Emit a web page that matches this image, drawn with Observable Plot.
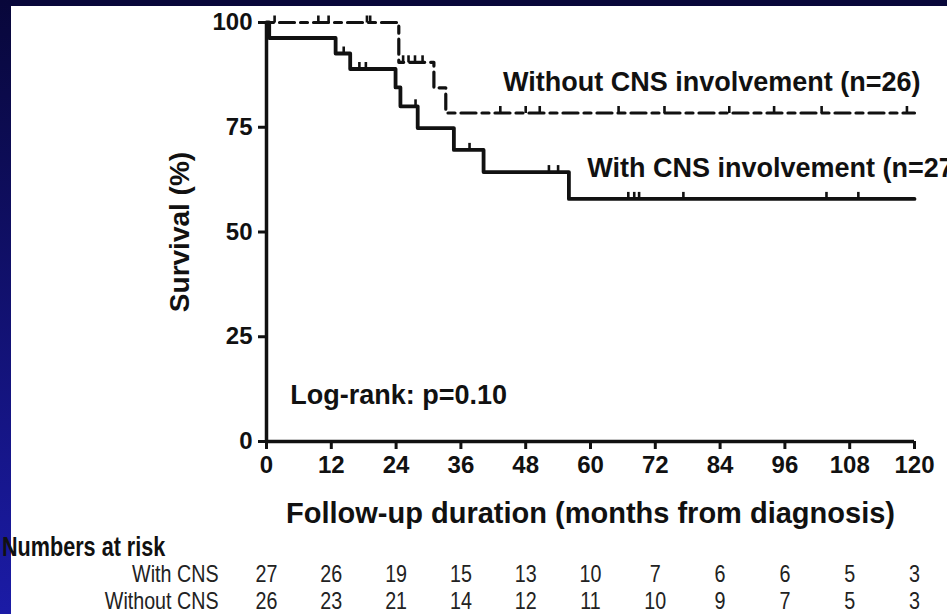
<!DOCTYPE html>
<html><head><meta charset="utf-8">
<script src="https://cdn.jsdelivr.net/npm/d3@7"></script>
<script src="https://cdn.jsdelivr.net/npm/@observablehq/plot@0.6"></script>
<style>
html,body{margin:0;padding:0;}
body{width:947px;height:614px;position:relative;overflow:hidden;background:#fff;font-family:"Liberation Sans",Arial,Helvetica,sans-serif;}
#topbar{position:absolute;left:0;top:0;width:947px;height:6px;background:#08073a;z-index:0;}
#leftbar{position:absolute;left:0;top:0;width:11px;height:614px;background:linear-gradient(#08073a,#1b1ba6);z-index:0;}
#chart{position:absolute;left:0;top:0;z-index:1;}
#risk{position:absolute;left:0;top:530px;z-index:1;}
#riskhead{position:absolute;left:2px;top:533px;font-weight:bold;font-size:27px;line-height:28px;color:#111;z-index:2;white-space:nowrap;transform-origin:left center;}
</style></head><body>
<div id="topbar"></div><div id="leftbar"></div>
<div id="chart"></div><div id="risk"></div>
<div id="riskhead">Numbers at risk</div>
<script>
// ---- data ----
const xTicks = [0, 12, 24, 36, 48, 60, 72, 84, 96, 108, 120];
const yTicks = [0, 25, 50, 75, 100];

// With CNS involvement: step curve (time in months, survival %)
const withTimes = [0, 0.5, 12.8, 15.5, 23.9, 24.8, 28.0, 34.7, 40.2, 56.0, 120];
const withSurv  = [100, 96.3, 92.6, 88.9, 84.5, 80.0, 74.8, 69.6, 64.3, 57.9, 57.9];
const withCensorTimes = [14.3, 17.2, 18.4, 27.6, 37.6, 52.3, 54.0, 67.0, 68.1, 69.0, 77.2, 103.7, 109.6];
const withCensorSurv  = [92.6, 88.9, 88.9, 80.0, 69.6, 64.3, 64.3, 57.9, 57.9, 57.9, 57.9, 57.9, 57.9];

// Without CNS involvement
const withoutTimes = [0, 24.5, 31.0, 33.2, 120];
const withoutSurv  = [100, 90.5, 84.4, 78.4, 78.4];
const withoutCensorTimes = [1.5, 9.6, 11.5, 18.6, 19.2, 25.3, 26.3, 27.5, 28.9, 43.3, 48.0, 50.6, 65.2, 73.7, 85.7, 94.0, 102.8, 118.6];
const withoutCensorSurv  = [100, 100, 100, 100, 100, 90.5, 90.5, 90.5, 90.5, 78.4, 78.4, 78.4, 78.4, 78.4, 78.4, 78.4, 78.4, 78.4];

// annotations
const noteTexts = ["Without CNS involvement (n=26)", "With CNS involvement (n=27)", "Log-rank: p=0.10"];
const noteX = [43.8, 59.4, 4.4];
const noteY = [85.6, 65.3, 11.0];

// numbers at risk
const riskGroups = ["With CNS", "Without CNS"];
const riskWith    = [27, 26, 19, 15, 13, 10, 7, 6, 6, 5, 3];
const riskWithout = [26, 23, 21, 14, 12, 11, 10, 9, 7, 5, 3];

// ---- tables built from arrays ----
const withLine = withTimes.map((t, i) => ({t, s: withSurv[i]}));
const withoutLine = withoutTimes.map((t, i) => ({t, s: withoutSurv[i]}));
const withCens = withCensorTimes.map((t, i) => ({t, s: withCensorSurv[i]}));
const withoutCens = withoutCensorTimes.map((t, i) => ({t, s: withoutCensorSurv[i]}));
const notes = noteTexts.map((text, i) => ({text, x: noteX[i], y: noteY[i]}));
const riskRows = [
  ...xTicks.map((m, i) => ({m, g: riskGroups[0], n: riskWith[i]})),
  ...xTicks.map((m, i) => ({m, g: riskGroups[1], n: riskWithout[i]}))
];

const censorTick = {
  draw(context, size) {
    const h = Math.sqrt(size / Math.PI) * 2;
    context.moveTo(0, 0);
    context.lineTo(0, -h);
  }
};

const FONT = '"Liberation Sans", Arial, Helvetica, sans-serif';

// narrow font detection
function narrowAvailable() {
  const c = document.createElement("canvas").getContext("2d");
  c.font = "26px monospace";
  const a = c.measureText("Numbers at risk Without").width;
  c.font = '26px "Liberation Sans Narrow", monospace';
  const b = c.measureText("Numbers at risk Without").width;
  return Math.abs(a - b) > 0.5;
}
const hasNarrow = narrowAvailable();
const NARROW = hasNarrow ? '"Liberation Sans Narrow", "Arial Narrow", sans-serif' : FONT;

const chart = Plot.plot({
  width: 947,
  height: 530,
  marginLeft: 266,
  marginRight: 33,
  marginTop: 22,
  marginBottom: 89,
  style: {background: "transparent", fontFamily: FONT, fontSize: "24px", fontWeight: "bold", color: "#111", overflow: "visible"},
  x: {domain: [0, 120]},
  y: {domain: [0, 100]},
  marks: [
    Plot.axisX({ticks: xTicks, tickSize: 8, strokeWidth: 3, tickPadding: 6, fontSize: 24, fontWeight: "bold", label: null}),
    Plot.axisX({ticks: [], tickSize: 0, fontSize: 29, fontWeight: "bold",
      label: "Follow-up duration (months from diagnosis)", labelAnchor: "center", labelArrow: "none", labelOffset: 81}),
    Plot.axisY({ticks: yTicks, tickSize: 8, strokeWidth: 3, tickPadding: 6, fontSize: 24, fontWeight: "bold", label: null}),
    Plot.axisY({ticks: [], tickSize: 0, fontSize: 28, fontWeight: "bold",
      label: "Survival (%)", labelAnchor: "center", labelArrow: "none", labelOffset: 97}),
    Plot.ruleY([0], {strokeWidth: 3.5, stroke: "#111"}),
    Plot.ruleX([0], {y1: 0, y2: 100, strokeWidth: 3.5, stroke: "#111"}),
    Plot.line(withoutLine, {x: "t", y: "s", curve: "step-after", stroke: "#111", strokeWidth: 3.2, strokeDasharray: "7,6,15,6"}),
    Plot.line(withLine, {x: "t", y: "s", curve: "step-after", stroke: "#111", strokeWidth: 3.8}),
    Plot.dot(withoutCens, {x: "t", y: "s", symbol: censorTick, r: 3.5, fill: "none", stroke: "#111", strokeWidth: 2.6}),
    Plot.dot(withCens, {x: "t", y: "s", symbol: censorTick, r: 3.5, fill: "none", stroke: "#111", strokeWidth: 2.6}),
    Plot.text(notes, {x: "x", y: "y", text: "text", textAnchor: "start", fontSize: 27, fontWeight: "bold", fill: "#111"})
  ]
});
document.getElementById("chart").append(chart);

const risk = Plot.plot({
  width: 947,
  height: 84,
  marginLeft: 266,
  marginRight: 33,
  marginTop: 44,
  marginBottom: 13,
  style: {background: "transparent", fontFamily: NARROW, fontSize: "24px", color: "#222", overflow: "visible"},
  x: {domain: [0, 120], axis: null},
  y: {type: "point", domain: riskGroups, padding: 0},
  marks: [
    Plot.axisY({tickSize: 0, tickPadding: 48, fontSize: 24, label: null}),
    Plot.text(riskRows, {x: "m", y: "g", text: "n", fontSize: 24, fill: "#222"})
  ]
});
document.getElementById("risk").append(risk);

const head = document.getElementById("riskhead");
head.style.fontFamily = NARROW;
if (!hasNarrow) {
  head.style.transform = "scaleX(0.8)";
  risk.querySelectorAll("text").forEach(t => {
    const L = t.getComputedTextLength();
    if (L > 0) {
      t.setAttribute("textLength", (L * 0.82).toFixed(1));
      t.setAttribute("lengthAdjust", "spacingAndGlyphs");
    }
  });
}
</script>
</body></html>
